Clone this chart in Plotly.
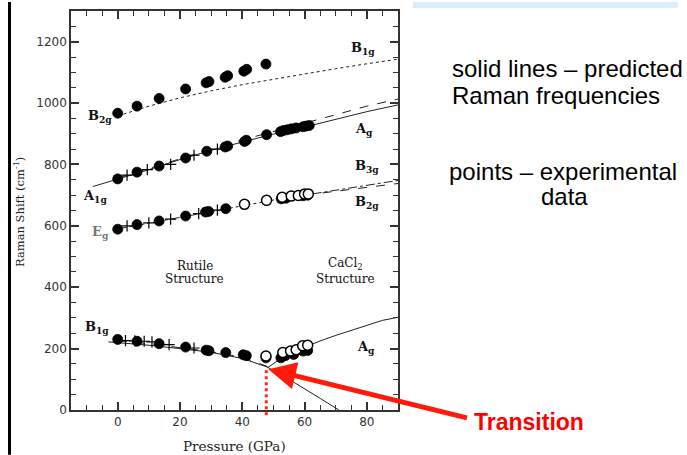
import plotly.graph_objects as go

# ---------------- data ----------------
# high B2g mode (experimental, filled)
b2g_hi_P = [0, 6.2, 13.3, 21.8, 28.4, 29.3, 34.5, 35.3, 40.5, 41.4, 47.6]
b2g_hi_V = [967, 990, 1015, 1046, 1066, 1070, 1084, 1089, 1104, 1110, 1127]

# A1g mode (experimental)
a1g_P = [0, 6.2, 13.3, 21.8, 28.6, 34.5, 35.3, 40.7, 41.3, 47.8, 52.3, 53.3, 54.5, 55.8, 57.3, 59.5, 60.5, 61.5]
a1g_V = [753, 775, 795, 821, 843, 857, 860, 875, 879, 897, 907, 911, 913, 916, 919, 923, 925, 927]
a1g_plus_P = [3, 9.5, 17, 24.5, 32]
a1g_plus_V = [765, 783, 800, 830, 850]

# Eg mode (experimental)
eg_P = [0, 6.2, 13.3, 21.8, 28.2, 29.2, 34.7, 52.5, 54, 59.5, 61]
eg_V = [589, 604, 616, 632, 645, 647, 656, 688, 690, 698, 700]
eg_open_P = [40.7, 47.8, 52.8, 55.7, 58, 60, 61.2]
eg_open_V = [670, 683, 693, 697, 699, 704, 704]
eg_plus_P = [3, 10, 17, 26, 32]
eg_plus_V = [600, 610, 622, 640, 651]

# low B1g / Ag mode (experimental)
b1g_lo_P = [0, 6.2, 13.3, 21.8, 28.4, 29.3, 34.7, 40.3, 41.3, 47.6, 52.4, 53.8, 56.5, 59.5, 61]
b1g_lo_V = [230, 224, 216, 205, 195, 193, 187, 180, 177, 170, 170, 177, 181, 192, 194]
b1g_lo_open_P = [47.6, 53, 55.5, 57.3, 59.4, 61]
b1g_lo_open_V = [176, 187, 192, 196, 209, 211]
b1g_lo_plus_P = [2.5, 5.5, 8.5, 11, 16.5, 24.5]
b1g_lo_plus_V = [226, 225, 224, 222, 213, 202]

# predicted frequencies
pred_b1g_P = [0, 10, 20, 30, 40, 50, 60, 70, 80, 90]
pred_b1g_V = [958, 990, 1017, 1040, 1060, 1078, 1095, 1112, 1128, 1143]
pred_a1g_P = [-8, 0, 10, 20, 30, 40, 50, 60, 70, 80, 90]
pred_a1g_V = [728, 752, 783, 816, 846, 873, 899, 922, 948, 972, 994]
pred_a1g2_P = [0, 10, 20, 30, 40, 50, 60, 70, 80, 90]
pred_a1g2_V = [755, 787, 820, 850, 880, 907, 933, 962, 990, 1013]
pred_eg_P = [0, 10, 20, 30, 40, 50, 60, 70, 80, 90]
pred_eg_V = [590, 609, 628, 648, 667, 684, 700, 716, 731, 748]
pred_eg2_P = [60, 70, 80, 90]
pred_eg2_V = [700, 712, 725, 738]
pred_soft_P = [-3, 0, 10, 20, 30, 40, 45, 48, 55, 60, 65, 71]
pred_soft_V = [222, 220, 211, 200, 188, 168, 152, 140, 100, 70, 38, 0]
pred_soft2_P = [0, 10, 20, 30, 40, 48]
pred_soft2_V = [226, 216, 203, 190, 172, 142]
pred_ag_P = [48, 52, 56, 60, 65, 70, 75, 80, 85, 90]
pred_ag_V = [137, 165, 188, 205, 225, 243, 260, 277, 292, 302]

x_ticks = [0, 20, 40, 60, 80]
y_ticks = [0, 200, 400, 600, 800, 1000, 1200]
transition_P = 47.7

# ---------------- figure ----------------
W, H = 687, 455
L, R, T, B = 71, 398, 9, 410
def px(x):
    return (x - L) / (R - L)
def py(y):
    return (B - y) / (B - T)

fig = go.Figure()

def line(xs, ys, dash="solid", color="#222", width=1):
    fig.add_trace(go.Scatter(x=xs, y=ys, mode="lines",
                             line=dict(color=color, width=width, dash=dash),
                             hoverinfo="skip", showlegend=False))

def pts(xs, ys, symbol="circle", fill="black", size=10, lw=0.8):
    fig.add_trace(go.Scatter(x=xs, y=ys, mode="markers",
                             marker=dict(symbol=symbol, size=size, color=fill,
                                         line=dict(color="black", width=lw)),
                             showlegend=False))

line(pred_b1g_P, pred_b1g_V, dash="dot")
line(pred_a1g_P, pred_a1g_V, dash="solid")
line(pred_a1g2_P, pred_a1g2_V, dash="dash")
line(pred_eg_P, pred_eg_V, dash="dashdot")
line(pred_eg2_P, pred_eg2_V, dash="dash")
line(pred_soft_P, pred_soft_V, dash="solid")
line(pred_soft2_P, pred_soft2_V, dash="dash")
line(pred_ag_P, pred_ag_V, dash="solid")

pts(a1g_plus_P, a1g_plus_V, symbol="cross-thin", size=8, lw=1.2)
pts(eg_plus_P, eg_plus_V, symbol="cross-thin", size=8, lw=1.2)
pts(b1g_lo_plus_P, b1g_lo_plus_V, symbol="cross-thin", size=8, lw=1.2)
pts(b2g_hi_P, b2g_hi_V)
pts(a1g_P, a1g_V)
pts(eg_P, eg_V)
pts(eg_open_P, eg_open_V, fill="white", lw=1.5)
pts(b1g_lo_P, b1g_lo_V)
pts(b1g_lo_open_P, b1g_lo_open_V, fill="white", lw=1.5)

axis_common = dict(showline=True, linecolor="#333", linewidth=1.5, mirror="ticks",
                   ticks="inside", ticklen=8, tickwidth=1.5, tickcolor="#333",
                   showgrid=False, zeroline=False,
                   tickfont=dict(family="DejaVu Sans", size=12, color="#333"))

fig.update_xaxes(range=[-15, 90], tickvals=x_ticks,
                 minor=dict(dtick=5, tick0=0, ticks="inside", ticklen=5, tickwidth=1.2, tickcolor="#333"),
                 **axis_common)
fig.update_yaxes(range=[0, 1300], tickvals=y_ticks,
                 minor=dict(dtick=50, tick0=0, ticks="inside", ticklen=5, tickwidth=1.2, tickcolor="#333"),
                 **axis_common)

serif = "DejaVu Serif"
ann = []
def lab(x, y, text, size=13, bold=True, color="#111"):
    t = "<b>%s</b>" % text if bold else text
    ann.append(dict(x=x, y=y, xref="x", yref="y", text=t, showarrow=False,
                    xanchor="center", yanchor="middle",
                    font=dict(family=serif, size=size, color=color)))

lab(78.7, 1177, "B<sub>1g</sub>")
lab(-5.8, 956, "B<sub>2g</sub>")
lab(79, 914, "A<sub>g</sub>")
lab(80, 794, "B<sub>3g</sub>")
lab(-7.4, 697, "A<sub>1g</sub>")
lab(80, 675, "B<sub>2g</sub>")
lab(-5.6, 577, "E<sub>g</sub>", color="#777")
lab(-6.8, 268, "B<sub>1g</sub>")
lab(79.7, 205, "A<sub>g</sub>")
lab(24.8, 470, "Rutile", size=12, bold=False)
lab(24.8, 428, "Structure", size=12, bold=False)
lab(73.2, 476, "CaCl<sub>2</sub>", size=12, bold=False)
lab(73.2, 428, "Structure", size=12, bold=False)

def note(x, y, text, size, family, color="black", xanchor="center", angle=0):
    ann.append(dict(x=px(x), y=py(y), xref="paper", yref="paper", text=text,
                    showarrow=False, xanchor=xanchor, yanchor="middle", textangle=angle,
                    font=dict(family=family, size=size, color=color)))

# axis titles
note(234, 446, "Pressure (GPa)", 13.5, serif, color="#222")
note(20, 211, "Raman Shift (cm<sup>-1</sup>)", 11.5, serif, color="#222", angle=-90)

# right-side notes
sans = "Liberation Sans"
note(450, 67, "solid lines – predicted", 24, sans, xanchor="left")
note(450, 94, "Raman frequencies", 24, sans, xanchor="left")
note(563, 170, "points – experimental", 24, sans)
note(564, 195, "data", 24, sans)
note(472, 422, "<b>Transition</b>", 23, sans, color="#FF0000", xanchor="left")

# arrow
ann.append(dict(x=48.4, y=133, xref="x", yref="y", text="", showarrow=True,
                ax=200, ay=49, arrowhead=2, arrowsize=1.1, arrowwidth=5,
                arrowcolor="#FF1A0A", standoff=0))

fig.update_layout(annotations=ann)

shapes = [
    dict(type="line", xref="x", yref="paper", x0=transition_P, x1=transition_P,
         y0=py(370), y1=py(418), line=dict(color="#FF2A1A", width=3, dash="dot")),
    dict(type="rect", xref="paper", yref="paper", x0=px(8), x1=px(11),
         y0=py(455), y1=py(0), fillcolor="black", line=dict(width=0)),
    dict(type="rect", xref="paper", yref="paper", x0=px(413), x1=px(678),
         y0=py(6), y1=py(0), fillcolor="#DCEEFB", line=dict(width=0)),
]
fig.update_layout(shapes=shapes)

fig.update_layout(width=W, height=H, margin=dict(l=L, r=W - R, t=T, b=H - B, pad=0),
                  paper_bgcolor="white", plot_bgcolor="white")

fig.write_html("out.html")
